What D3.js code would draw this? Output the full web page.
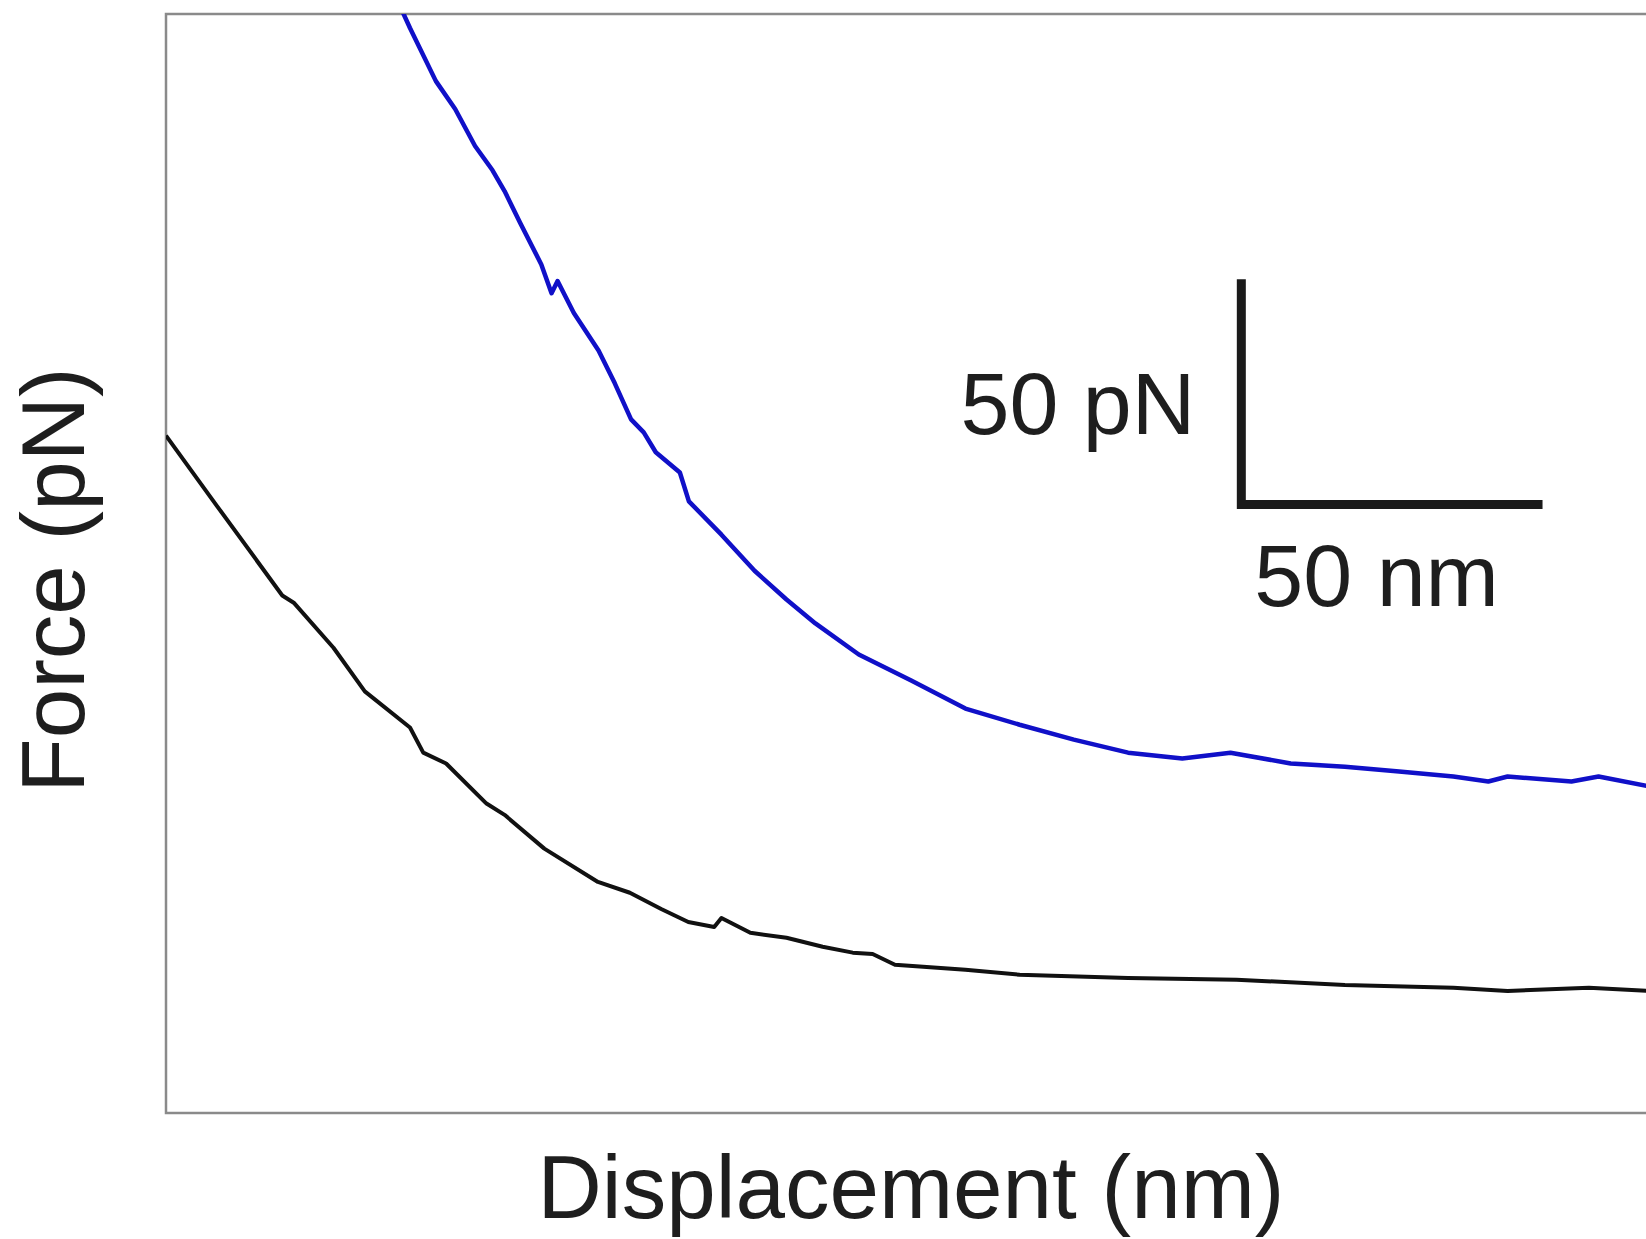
<!DOCTYPE html>
<html>
<head>
<meta charset="utf-8">
<script src="https://cdn.jsdelivr.net/npm/d3@7"></script>
<style>
  html, body { margin: 0; padding: 0; background: #fff; }
  svg { display: block; }
  text { font-family: "Liberation Sans", Arial, sans-serif; fill: #1e1e1e; }
</style>
</head>
<body>
<div id="chart"></div>
<script>
// displacement (nm) and force (pN)
const blackNm = [0, 8.5, 19.3, 21.2, 27.8, 33.0, 40.5, 42.7, 46.5, 53.2, 56.2, 62.8, 71.7, 77.0, 82.2, 86.7, 91.0, 92.2, 97.0, 103.0, 109.0, 114.0, 117.3, 121.0, 132.7, 141.7, 159.7, 177.7, 195.7, 213.7, 222.7, 236.2, 246.7];
const blackPn = [150.4, 134.7, 114.9, 113.3, 103.3, 93.6, 85.6, 80.0, 77.6, 68.7, 66.2, 58.7, 51.3, 48.9, 45.3, 42.4, 41.3, 43.3, 40.0, 38.9, 36.9, 35.6, 35.3, 32.9, 31.8, 30.7, 30.0, 29.6, 28.4, 27.8, 27.1, 27.8, 27.1];

const blueNm = [39.2, 40.5, 44.8, 48.0, 51.3, 54.2, 56.2, 58.8, 62.3, 64.0, 65.0, 67.7, 71.8, 74.5, 77.2, 79.3, 81.3, 85.3, 86.8, 92.2, 97.7, 103.0, 107.8, 115.0, 123.7, 132.7, 141.7, 150.7, 159.7, 168.7, 176.7, 186.7, 195.7, 204.7, 213.7, 219.5, 222.7, 233.3, 237.8, 246.7];
const bluePn = [244.7, 240.9, 229.1, 222.9, 214.7, 209.3, 204.7, 197.6, 188.4, 182.0, 184.7, 177.6, 169.3, 162.0, 154.0, 151.1, 146.7, 142.2, 135.8, 128.4, 120.4, 114.0, 108.7, 101.8, 96.0, 89.8, 86.2, 82.9, 80.0, 78.7, 80.0, 77.6, 76.9, 75.8, 74.7, 73.6, 74.7, 73.6, 74.7, 72.4];

// scale bar: 50 pN by 50 nm, corner placed in data units
const barNm = 50;
const barPn = 50;
const barCorner = [178.5, 135.1];

const width = 1646, height = 1239;
const margin = { top: 14, right: -14, bottom: 126, left: 166 };

const svg = d3.select("#chart").append("svg")
    .attr("width", width)
    .attr("height", height);

const x = d3.scaleLinear().domain([0, 248]).range([margin.left, width - margin.right]);
const y = d3.scaleLinear().domain([0, 244]).range([height - margin.bottom, margin.top]);

svg.append("clipPath").attr("id", "plot-clip")
    .append("rect")
    .attr("x", x(0)).attr("y", y(244))
    .attr("width", x(248) - x(0)).attr("height", y(0) - y(244));

// frame
svg.append("rect")
    .attr("x", x(0)).attr("y", y(244))
    .attr("width", x(248) - x(0)).attr("height", y(0) - y(244))
    .attr("fill", "none")
    .attr("stroke", "#8a8a8a")
    .attr("stroke-width", 2.5);

const line = d3.line().x(d => x(d[0])).y(d => y(d[1]));

const traces = [
    { nm: blackNm, pn: blackPn, color: "#111111", w: 4 },
    { nm: blueNm, pn: bluePn, color: "#1010c8", w: 4.5 }
];

svg.append("g").attr("clip-path", "url(#plot-clip)")
    .selectAll("path")
    .data(traces)
    .join("path")
    .attr("d", d => line(d3.zip(d.nm, d.pn)))
    .attr("fill", "none")
    .attr("stroke", d => d.color)
    .attr("stroke-width", d => d.w)
    .attr("stroke-linejoin", "round");

// scale bar
const cx = x(barCorner[0]), cy = y(barCorner[1]);
svg.append("path")
    .attr("d", `M${cx},${y(barCorner[1] + barPn)}L${cx},${cy}L${x(barCorner[0] + barNm)},${cy}`)
    .attr("fill", "none")
    .attr("stroke", "#1a1a1a")
    .attr("stroke-width", 9)
    .attr("stroke-linejoin", "miter");

svg.append("text")
    .attr("x", cx - 46).attr("y", 434)
    .attr("text-anchor", "end")
    .attr("font-size", 88)
    .text("50 pN");

svg.append("text")
    .attr("x", cx + 13).attr("y", 606)
    .attr("font-size", 88)
    .text("50 nm");

// axis titles
svg.append("text")
    .attr("x", 911).attr("y", 1218)
    .attr("text-anchor", "middle")
    .attr("font-size", 89)
    .text("Displacement (nm)");

svg.append("text")
    .attr("transform", "translate(84,580) rotate(-90)")
    .attr("text-anchor", "middle")
    .attr("font-size", 89)
    .text("Force (pN)");
</script>
</body>
</html>
